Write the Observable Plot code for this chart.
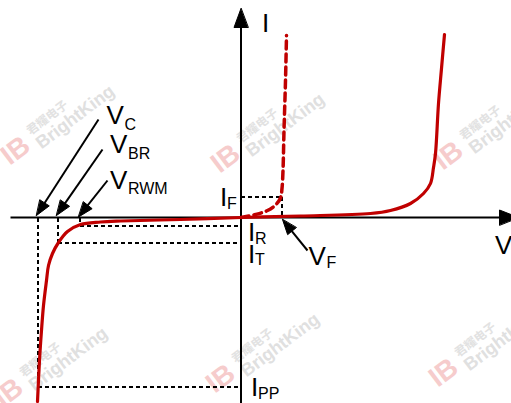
<!DOCTYPE html>
<html><head><meta charset="utf-8">
<script src="https://cdn.jsdelivr.net/npm/d3@7"></script>
<script src="https://cdn.jsdelivr.net/npm/@observablehq/plot@0.6"></script>
<style>html,body{margin:0;padding:0;background:#fff}#chart svg{display:block}</style>
</head><body><div id="chart"></div>
<script>
// ---- data (arbitrary units: V right, I up; origin at the axes crossing) ----
const solidV = [-20.35,-20.15,-19.95,-19.75,-19.45,-19.25,-18.85,-18.25,-17.35,-16.05,-14.05,-12.05,-6.05,0,5.95,12.95,14.95,16.95,18.25,18.95,19.25,19.45,19.75,20.05,20.35];
const solidI = [-18.4,-14.3,-11.3,-8.8,-6.3,-4.8,-3.6,-2.5,-1.4,-0.7,-0.45,-0.35,-0.2,0,0.15,0.4,0.7,1.4,2.4,3.4,5.0,6.4,11.4,14.9,18.3];
const dashedV = [0,1.45,2.65,3.45,3.95,4.1,4.2,4.3,4.45,4.55];
const dashedI = [0,0.3,0.7,1.25,1.95,2.9,4.7,8.7,13.7,18.2];

const VC = -20.35, VBR = -18.35, VRWM = -16.15, VF = 4.05;
const IPP = -16.9, IT = -2.5, IR = -0.8, IF = 2.1;

const labelMain = ["V","V","V","I","I","I","I","V","I","V"];
const labelSub  = ["C","BR","RWM","F","R","T","PP","F","",""];
const labelV    = [-13.45,-13.1,-13.1,-2.1,0.71,0.71,1.01,6.75,2.11,25.4];
const labelI    = [9.4,6.5,2.9,1.2,-2.3,-4.5,-17.8,-4.7,18.6,-3.6];
const labelSubDy = [6,6,5,3,3,2,3,3,0,0];

const calloutTail = [[-14.25,9.8],[-13.85,6.8],[-13.35,3.7],[6.65,-3.3]];
const calloutTip  = [[VC-0.1,0.2],[VBR-0.1,0.2],[VRWM-0.1,0.05],[4.15,-0.2]];

const wmV = [-22.55,-1.55,20.75,-23.25,-2.05,20.25];
const wmI = [6.7,5.9,6.2,-17.5,-16.1,-15.5];

// ---- build tables ----
const solid = solidV.map((v,i)=>({V:v, I:solidI[i]}));
const dashed = dashedV.map((v,i)=>({V:v, I:dashedI[i]}));
const refSegs = [
  {x1:VC,y1:0,x2:VC,y2:IPP},{x1:VC,y1:IPP,x2:0,y2:IPP},
  {x1:VBR,y1:0,x2:VBR,y2:IT},{x1:VBR,y1:IT,x2:0,y2:IT},
  {x1:VRWM,y1:0,x2:VRWM,y2:IR},{x1:VRWM,y1:IR,x2:0,y2:IR},
  {x1:0,y1:IF,x2:VF,y2:IF},{x1:VF,y1:IF,x2:VF,y2:0}
];
function head(tail, tip, len, half, id){
  const dx = tip[0]-tail[0], dy = tip[1]-tail[1], L = Math.hypot(dx,dy);
  const ux = dx/L, uy = dy/L, px = -uy, py = ux;
  const bx = tip[0]-len*ux, by = tip[1]-len*uy;
  return {
    shaft:{x1:tail[0],y1:tail[1],x2:tip[0]-0.6*len*ux,y2:tip[1]-0.6*len*uy},
    tri:[{id,x:tip[0],y:tip[1]},{id,x:bx+half*px,y:by+half*py},{id,x:bx-half*px,y:by-half*py}]
  };
}
const arrows = [];
arrows.push(head([-23.05,0],[27.75,0],1.9,0.75,"xaxis"));
arrows.push(head([0,-18.8],[0,20.9],1.9,0.7,"yaxis"));
calloutTail.forEach((t,i)=>arrows.push(head(t,calloutTip[i],1.5,0.55,"c"+i)));
const shafts = arrows.map(a=>a.shaft);
const tris = arrows.flatMap(a=>a.tri);

const labels = labelMain.map((m,i)=>({main:m, sub:labelSub[i], V:labelV[i], I:labelI[i], dy:labelSubDy[i]}));
const wm = wmV.map((v,i)=>({V:v, I:wmI[i]}));

const font = "Liberation Sans, Arial, Helvetica, sans-serif";
const red = "#c00000";

const subMarks = labels.filter(l=>l.sub).map(l=>Plot.text([l],{x:"V",y:"I",text:"sub",dx:(l.main==="V"?18:7),dy:l.dy,fontSize:16,fontFamily:font,textAnchor:"start",lineAnchor:"bottom",fill:"black"}));

const chart = Plot.plot({
  width:511, height:403, margin:0,
  x:{domain:[-24.05,27.05], axis:null},
  y:{domain:[-18.6,21.7], axis:null},
  style:{background:"white"},
  marks:[
    // watermarks
    Plot.text(wm,{x:"V",y:"I",text:()=>"IB",rotate:-37,fontSize:28,fontWeight:"bold",fill:"#f6cccc",fontFamily:font,textAnchor:"middle",lineAnchor:"middle"}),
    Plot.text(wm,{x:"V",y:"I",text:()=>"君耀电子",rotate:-37,dx:15,dy:-15,fontSize:12,fontWeight:"bold",fill:"#e2e2e2",fontFamily:"Noto Sans CJK SC, sans-serif",textAnchor:"start",lineAnchor:"bottom"}),
    Plot.text(wm,{x:"V",y:"I",text:()=>"BrightKing",rotate:-37,dx:26,dy:-1,fontSize:18,fontWeight:"bold",fill:"#e0e0e0",fontFamily:font,textAnchor:"start",lineAnchor:"bottom"}),
    // reference dashed lines
    Plot.link(refSegs,{x1:"x1",y1:"y1",x2:"x2",y2:"y2",stroke:"black",strokeWidth:2,strokeDasharray:"4,3",shapeRendering:"crispEdges"}),
    // axes + callout shafts
    Plot.link(shafts,{x1:"x1",y1:"y1",x2:"x2",y2:"y2",stroke:"black",strokeWidth:2}),
    Plot.line(tris,{x:"x",y:"y",z:"id",curve:"linear-closed",fill:"black",stroke:"black",strokeWidth:1}),
    // curves
    Plot.line(dashed,{x:"V",y:"I",curve:"catmull-rom",stroke:red,strokeWidth:3.5,strokeDasharray:"8,5"}),
    Plot.line(solid,{x:"V",y:"I",curve:"catmull-rom",stroke:red,strokeWidth:3.2}),
    // labels
    Plot.text(labels,{x:"V",y:"I",text:"main",fontSize:26,fontFamily:font,textAnchor:"start",lineAnchor:"bottom",fill:"black"}),
    ...subMarks
  ]
});
document.getElementById("chart").append(chart);
</script>
</body></html>
